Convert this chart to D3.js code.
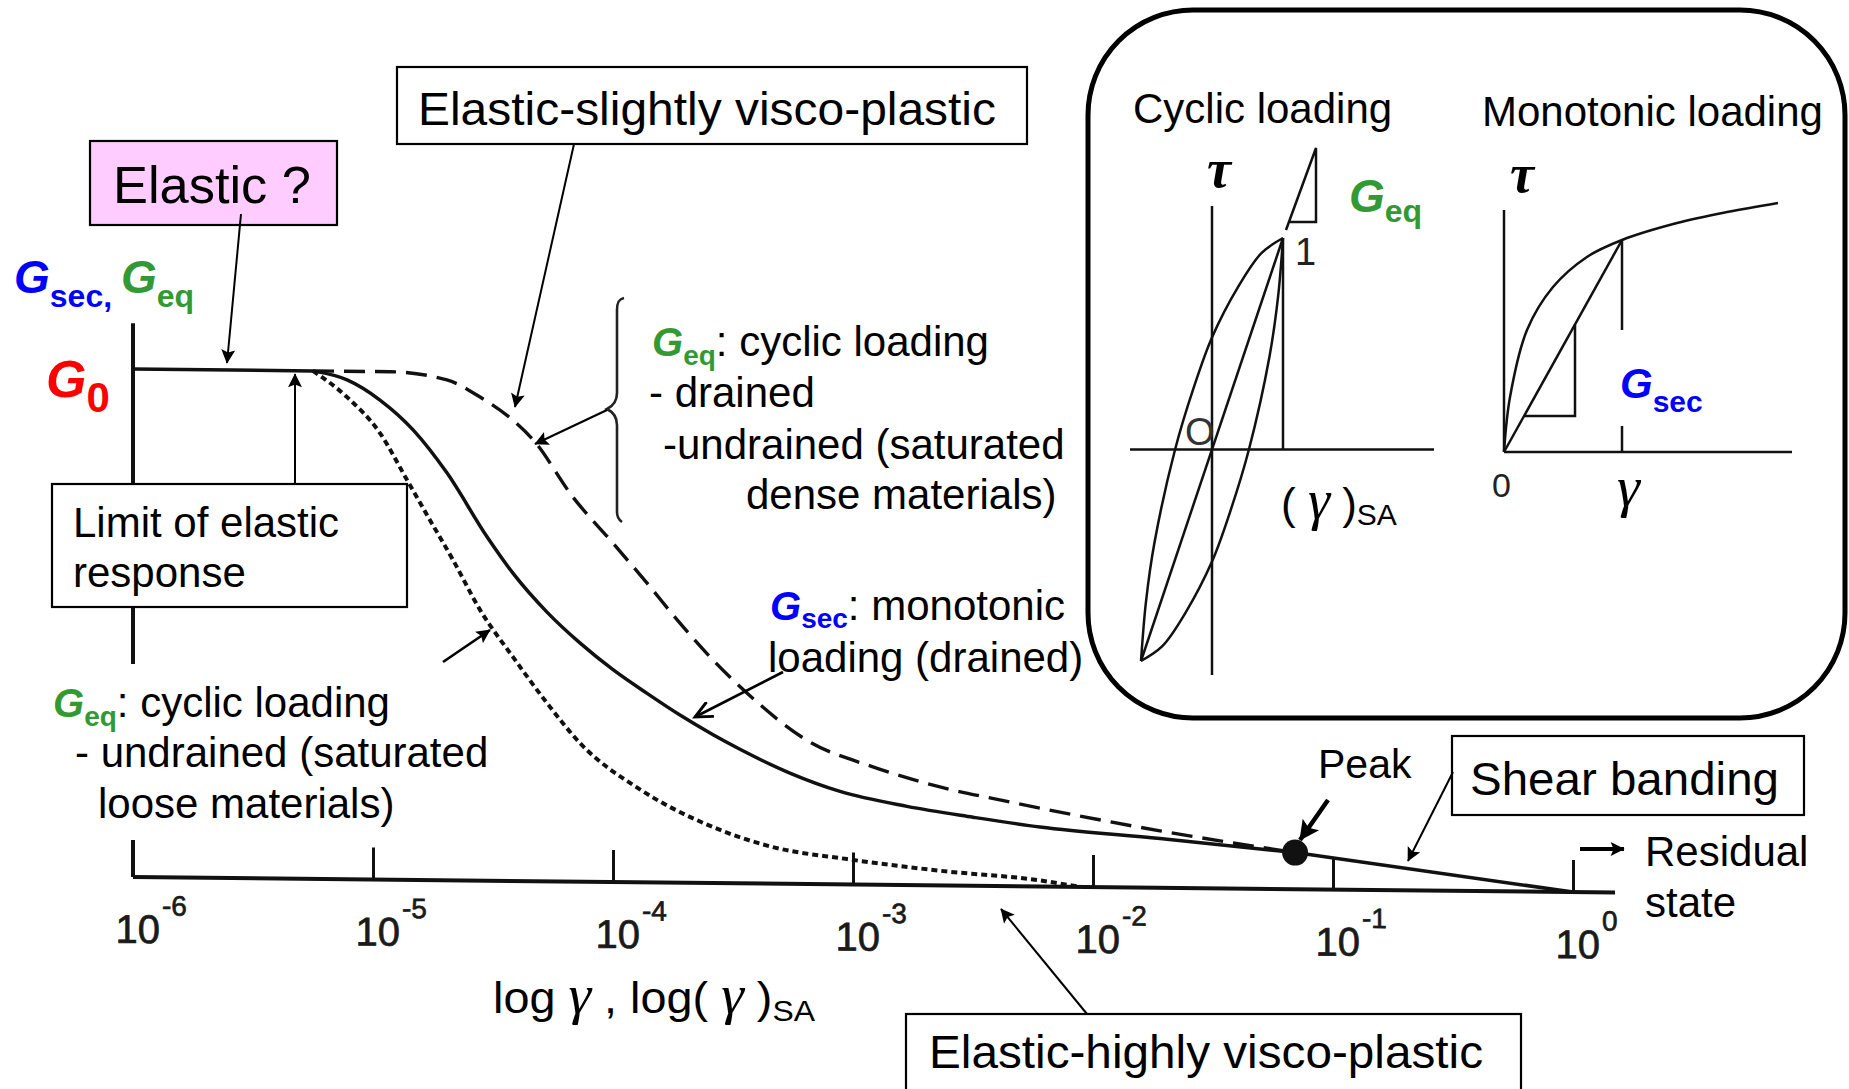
<!DOCTYPE html>
<html>
<head>
<meta charset="utf-8">
<script src="https://cdn.jsdelivr.net/npm/d3@7"></script>
<style>
  html, body { margin: 0; padding: 0; background: #fff; }
  svg { display: block; }
  text { font-family: "Liberation Sans", Arial, sans-serif; fill: #000; }
  .serif { font-family: "Liberation Serif", "Times New Roman", serif; font-style: italic; }
</style>
</head>
<body>
<svg id="chart" width="1849" height="1089"></svg>
<script>
// ---- strain axis: decades of shear strain ----
const tickExponents = [-6, -5, -4, -3, -2, -1, 0];

// ---- G0 plateau (elastic range) ----
const plateauLogGamma = [-6, -5.25];
const plateauRatio = [1, 1];

// ---- G_sec : monotonic loading (drained), solid line ----
const secLogGamma = [-5.25, -5.108, -4.971, -4.833, -4.692, -4.525, -4.417, -4.275, -4.138, -4.0, -3.858, -3.721, -3.583, -3.471, -3.263, -3.054, -2.775, -2.5, -2.221, -1.721, -1.158];
const secRatio    = [1.0, 0.983, 0.944, 0.886, 0.802, 0.677, 0.606, 0.530, 0.470, 0.418, 0.372, 0.330, 0.292, 0.264, 0.218, 0.183, 0.155, 0.135, 0.117, 0.097, 0.072];

// ---- G_eq : cyclic loading, drained / dense undrained, dashed line ----
const eqDrainedLogGamma = [-5.25, -4.929, -4.692, -4.554, -4.417, -4.333, -4.167, -4.0, -3.858, -3.721, -3.583, -3.442, -3.192, -2.917, -2.638, -2.358, -2.083, -1.721, -1.158];
const eqDrainedRatio    = [1.0, 1.0, 0.985, 0.952, 0.907, 0.869, 0.757, 0.667, 0.589, 0.511, 0.439, 0.375, 0.283, 0.232, 0.194, 0.167, 0.142, 0.112, 0.072];

// ---- G_eq : cyclic loading, undrained loose, dotted line ----
const eqUndrainedLogGamma = [-5.25, -5.108, -4.971, -4.858, -4.763, -4.667, -4.554, -4.417, -4.275, -4.138, -3.888, -3.608, -3.333, -3.025, -2.638, -2.221, -2.054];
const eqUndrainedRatio    = [1.0, 0.949, 0.879, 0.787, 0.709, 0.631, 0.533, 0.441, 0.351, 0.273, 0.183, 0.115, 0.072, 0.050, 0.029, 0.012, 0.0];

// ---- peak and shear banding towards the residual state ----
const peakLogGamma = -1.158;
const peakRatio = 0.072;
const residualLogGamma = [-1.158, 0];
const residualRatio = [0.072, 0];

// ---- inset: cyclic hysteresis loop, upper branch (normalised by single amplitude) ----
const loopUpperGamma = [-1, -0.93, -0.81, -0.52, -0.26, 0, 0.37, 0.7, 1];
const loopUpperTau   = [-1, -0.72, -0.44, 0, 0.29, 0.53, 0.77, 0.93, 1];

// ---- inset: monotonic stress-strain curve (normalised at the secant point) ----
const monoGamma = [0, 0.051, 0.195, 0.415, 0.703, 1, 1.466, 1.890, 2.322];
const monoTau   = [0, 0.259, 0.575, 0.778, 0.920, 1, 1.080, 1.132, 1.175];

// ---- colours ----
const BLUE = "#0000ff", GREEN = "#339933", RED = "#ff0000", PINK = "#ffccff", INK = "#111";

const svg = d3.select("#chart");
svg.append("rect").attr("width", 1849).attr("height", 1089).attr("fill", "#fff");

// arrow heads
const defs = svg.append("defs");
function marker(id, w, h, open) {
  const m = defs.append("marker").attr("id", id)
    .attr("viewBox", "0 0 10 10").attr("refX", 9.5).attr("refY", 5)
    .attr("markerUnits", "userSpaceOnUse")
    .attr("markerWidth", w).attr("markerHeight", h).attr("orient", "auto");
  if (open) {
    m.append("path").attr("d", "M0,0.5 L9.5,5 L0,9.5").attr("fill", "none")
      .attr("stroke", "#000").attr("stroke-width", 1.6);
  } else {
    m.append("path").attr("d", "M0,0 L10,5 L0,10 L2,5 Z").attr("fill", "#000");
  }
}
marker("head", 22, 14, false);
marker("headBig", 26, 20, false);
marker("chev", 22, 18, true);

function arrow(x1, y1, x2, y2, w, id) {
  svg.append("line").attr("x1", x1).attr("y1", y1).attr("x2", x2).attr("y2", y2)
    .attr("stroke", "#000").attr("stroke-width", w || 2)
    .attr("marker-end", "url(#" + (id || "head") + ")");
}
function line(g, x1, y1, x2, y2, w) {
  return g.append("line").attr("x1", x1).attr("y1", y1).attr("x2", x2).attr("y2", y2)
    .attr("stroke", INK).attr("stroke-width", w || 2.5);
}
function label(x, y, str, size, opts) {
  const t = svg.append("text").attr("x", x).attr("y", y).attr("font-size", size).text(str);
  if (opts && opts.len) t.attr("textLength", opts.len).attr("lengthAdjust", "spacingAndGlyphs");
  if (opts && opts.fill) t.style("fill", opts.fill);
  if (opts && opts.anchor) t.attr("text-anchor", opts.anchor);
  return t;
}
// "G" with a subscript, followed by optional plain text
function gLabel(x, y, sub, color, gSize, subSize, subDy, rest, restSize) {
  const t = svg.append("text").attr("x", x).attr("y", y);
  t.append("tspan").text("G").attr("font-size", gSize).attr("font-weight", "bold")
    .attr("font-style", "italic").style("fill", color);
  t.append("tspan").text(sub).attr("font-size", subSize).attr("font-weight", "bold")
    .attr("dy", subDy).style("fill", color);
  if (rest) t.append("tspan").text(rest).attr("font-size", restSize).attr("dy", -subDy);
  return t;
}

// ================= main chart =================
const plotW = 1440, plotH = 508;
const x = d3.scaleLog().domain([1e-6, 1]).range([0, plotW]);
const y = d3.scaleLinear().domain([0, 1]).range([0, -plotH]);
const plotTransform = "translate(133,877) skewY(0.6)";

const axes = svg.append("g").attr("transform", plotTransform);
// ordinate
axes.append("line").attr("x1", 0).attr("x2", 0).attr("y1", 0).attr("y2", y(1.09))
  .attr("stroke", INK).attr("stroke-width", 4);
// abscissa with decade ticks
const xAxis = d3.axisBottom(x)
  .tickValues(tickExponents.map(e => Math.pow(10, e)))
  .tickSize(-32).tickSizeOuter(0).tickFormat(() => "");
const gx = axes.append("g").call(xAxis);
gx.select(".domain").remove();
gx.selectAll(".tick line").attr("stroke", INK).attr("stroke-width", 3);
gx.selectAll(".tick").each(function (d, i) {
  const t = d3.select(this).append("text").attr("x", -18).attr("y", 66)
    .attr("font-size", 40).attr("text-anchor", "start")
    .style("fill", "#1a1a1a").style("stroke", "#1a1a1a").style("stroke-width", 0.7);
  t.append("tspan").text("10");
  t.append("tspan").text(String(tickExponents[i]))
    .attr("font-size", 28).attr("dy", -28).attr("dx", 2);
});
axes.append("line").attr("x1", 0).attr("x2", x(1) + 42).attr("y1", 0).attr("y2", 0)
  .attr("stroke", INK).attr("stroke-width", 4);

// white panels behind labels that sit over the ordinate
svg.append("rect").attr("x", 38).attr("y", 664).attr("width", 455).attr("height", 176).attr("fill", "#fff");
svg.append("rect").attr("x", 52).attr("y", 484).attr("width", 355).attr("height", 123)
  .attr("fill", "#fff").attr("stroke", "#000").attr("stroke-width", 2.2);

// curves
const curves = svg.append("g").attr("transform", plotTransform);
const toPts = (lg, r) => lg.map((v, i) => [x(Math.pow(10, v)), y(r[i])]);
const smooth = d3.line().curve(d3.curveMonotoneX);
const straight = d3.line();
const round = d3.line().curve(d3.curveCatmullRom.alpha(0.5));

curves.append("path").attr("d", straight(toPts(plateauLogGamma, plateauRatio)))
  .attr("fill", "none").attr("stroke", INK).attr("stroke-width", 3.5);
curves.append("path").attr("d", smooth(toPts(secLogGamma, secRatio)))
  .attr("fill", "none").attr("stroke", INK).attr("stroke-width", 3.5);
curves.append("path").attr("d", smooth(toPts(eqDrainedLogGamma, eqDrainedRatio)))
  .attr("fill", "none").attr("stroke", INK).attr("stroke-width", 3.4)
  .attr("stroke-dasharray", "21,10");
curves.append("path").attr("d", smooth(toPts(eqUndrainedLogGamma, eqUndrainedRatio)))
  .attr("fill", "none").attr("stroke", INK).attr("stroke-width", 4)
  .attr("stroke-dasharray", "6,4");
curves.append("path").attr("d", straight(toPts(residualLogGamma, residualRatio)))
  .attr("fill", "none").attr("stroke", INK).attr("stroke-width", 3.5);
curves.append("circle").attr("cx", x(Math.pow(10, peakLogGamma))).attr("cy", y(peakRatio))
  .attr("r", 13).attr("fill", INK);

// ================= annotations =================
// Elastic ?
svg.append("rect").attr("x", 90).attr("y", 141).attr("width", 247).attr("height", 84)
  .attr("fill", PINK).attr("stroke", "#000").attr("stroke-width", 2.2);
label(113, 203, "Elastic ?", 52, { len: 198 });
arrow(241, 214, 227, 363, 2);

// ordinate labels
const lab1 = svg.append("text").attr("x", 14).attr("y", 293);
lab1.append("tspan").text("G").attr("font-size", 46).attr("font-weight", "bold").attr("font-style", "italic").style("fill", BLUE);
lab1.append("tspan").text("sec,").attr("font-size", 32).attr("font-weight", "bold").attr("dy", 14).style("fill", BLUE);
lab1.append("tspan").text(" ").attr("font-size", 32);
lab1.append("tspan").text("G").attr("font-size", 46).attr("font-weight", "bold").attr("font-style", "italic").attr("dy", -14).style("fill", GREEN);
lab1.append("tspan").text("eq").attr("font-size", 32).attr("font-weight", "bold").attr("dy", 14).style("fill", GREEN);

const g0 = svg.append("text").attr("x", 46).attr("y", 397);
g0.append("tspan").text("G").attr("font-size", 52).attr("font-weight", "bold").attr("font-style", "italic").style("fill", RED);
g0.append("tspan").text("0").attr("font-size", 42).attr("font-weight", "bold").attr("dy", 15).style("fill", RED);

// Elastic-slightly visco-plastic
svg.append("rect").attr("x", 397).attr("y", 67).attr("width", 630).attr("height", 77)
  .attr("fill", "#fff").attr("stroke", "#000").attr("stroke-width", 2.2);
label(418, 125, "Elastic-slightly visco-plastic", 47, { len: 578 });
arrow(574, 144, 515, 407, 2);

// brace grouping the dashed-curve cases
svg.append("path")
  .attr("d", "M624,298 C619,299 617,302 617,310 L617,393 C617,402 613,406 607,409 C613,412 617,416 617,425 L617,512 C617,518 619,520 622,522")
  .attr("fill", "none").attr("stroke", "#222").attr("stroke-width", 2.6);
arrow(607, 410, 535, 444, 2.2);

gLabel(652, 356, "eq", GREEN, 40, 28, 9, ": cyclic loading", 42);
label(649, 407, "- drained", 42);
label(663, 459, "-undrained (saturated", 42);
label(746, 509, "dense materials)", 42);

// Limit of elastic response
label(73, 537, "Limit of elastic", 42);
label(73, 587, "response", 42);
arrow(295, 484, 295, 374, 2);

// lower G_eq label
gLabel(53, 717, "eq", GREEN, 40, 28, 9, ": cyclic loading", 42);
label(75, 767, "- undrained (saturated", 42);
label(98, 818, "loose materials)", 42);
arrow(443, 662, 490, 630, 2.6);

// G_sec label
gLabel(770, 620, "sec", BLUE, 40, 28, 8, ": monotonic", 42);
label(768, 672, "loading (drained)", 42);
arrow(783, 672, 695, 717, 2.8, "chev");

// Peak
label(1318, 778, "Peak", 41);
arrow(1328, 800, 1300, 840, 4.5, "headBig");

// Shear banding
svg.append("rect").attr("x", 1452).attr("y", 736).attr("width", 352).attr("height", 79)
  .attr("fill", "#fff").attr("stroke", "#000").attr("stroke-width", 2.2);
label(1470, 795, "Shear banding", 46, { len: 309 });
arrow(1453, 772, 1408, 861, 2);

// Residual state
arrow(1580, 849, 1624, 849, 4, "head");
label(1645, 866, "Residual", 42);
label(1645, 917, "state", 42);

// Elastic-highly visco-plastic
svg.append("rect").attr("x", 906).attr("y", 1014).attr("width", 615).attr("height", 100)
  .attr("fill", "#fff").attr("stroke", "#000").attr("stroke-width", 2.2);
label(929, 1068, "Elastic-highly visco-plastic", 47, { len: 554 });
arrow(1087, 1014, 1001, 909, 2);

// abscissa title
const xt = svg.append("text").attr("x", 493).attr("y", 1013).attr("font-size", 44)
  .attr("textLength", 322).attr("lengthAdjust", "spacingAndGlyphs");
xt.append("tspan").text("log ");
xt.append("tspan").text("\u03b3").attr("class", "serif").attr("font-size", 54);
xt.append("tspan").text(" , log( ");
xt.append("tspan").text("\u03b3").attr("class", "serif").attr("font-size", 54);
xt.append("tspan").text(" )");
xt.append("tspan").text("SA").attr("font-size", 30).attr("dy", 8);

// ================= inset =================
const inset = svg.append("g");
inset.append("rect").attr("x", 1088).attr("y", 10).attr("width", 757).attr("height", 708)
  .attr("rx", 105).attr("ry", 105).attr("fill", "#fff")
  .attr("stroke", "#000").attr("stroke-width", 5);

label(1133, 123, "Cyclic loading", 42);
label(1482, 126, "Monotonic loading", 42);

// cyclic panel
const cx = d3.scaleLinear().domain([-1, 1]).range([1141, 1283]);
const cy = d3.scaleLinear().domain([-1, 1]).range([661, 238]);
svg.append("text").attr("x", 1207).attr("y", 187).attr("class", "serif")
  .attr("font-size", 54).attr("font-weight", "bold").text("\u03c4");
line(inset, cx(0), 206, cx(0), 675);
line(inset, 1130, cy(0), 1434, cy(0));
label(1185, 445, "O", 38, { fill: "#333" });
const upper = loopUpperGamma.map((g, i) => [cx(g), cy(loopUpperTau[i])]);
const lower = loopUpperGamma.map((g, i) => [cx(-g), cy(-loopUpperTau[i])]).reverse();
inset.append("path").attr("d", round(upper)).attr("fill", "none").attr("stroke", INK).attr("stroke-width", 2.5);
inset.append("path").attr("d", round(lower)).attr("fill", "none").attr("stroke", INK).attr("stroke-width", 2.5);
line(inset, cx(-1), cy(-1), cx(1), cy(1));
line(inset, cx(1), cy(1), cx(1), cy(0));
inset.append("path").attr("d", "M1286,230 L1316,148 L1316,222 L1290,222")
  .attr("fill", "none").attr("stroke", INK).attr("stroke-width", 2.5);
label(1295, 265, "1", 38, { fill: "#222" });
gLabel(1349, 212, "eq", GREEN, 46, 32, 10);
const sa = svg.append("text").attr("x", 1281).attr("y", 519).attr("font-size", 44);
sa.append("tspan").text("( ");
sa.append("tspan").text("\u03b3").attr("class", "serif").attr("font-size", 56);
sa.append("tspan").text(" )");
sa.append("tspan").text("SA").attr("font-size", 30).attr("dy", 6);

// monotonic panel
const mx = d3.scaleLinear().domain([0, 1]).range([1504, 1622]);
const my = d3.scaleLinear().domain([0, 1]).range([452, 240]);
svg.append("text").attr("x", 1510).attr("y", 192).attr("class", "serif")
  .attr("font-size", 54).attr("font-weight", "bold").text("\u03c4");
line(inset, mx(0), 210, mx(0), my(0));
line(inset, mx(0), my(0), 1792, my(0));
inset.append("path").attr("d", round(monoGamma.map((g, i) => [mx(g), my(monoTau[i])])))
  .attr("fill", "none").attr("stroke", INK).attr("stroke-width", 2.5);
line(inset, mx(0), my(0), mx(1), my(1));
line(inset, mx(1), my(1), mx(1), my(0));
// slope triangle under the secant
const legX = 1575, legY = 416;
const secY = my((legX - mx(0)) / (mx(1) - mx(0)));
const secX = mx(my.invert(legY));
inset.append("path").attr("d", `M${legX},${secY} L${legX},${legY} L${secX},${legY}`)
  .attr("fill", "none").attr("stroke", INK).attr("stroke-width", 2.5);
inset.append("rect").attr("x", 1586).attr("y", 330).attr("width", 122).attr("height", 96).attr("fill", "#fff");
gLabel(1620, 398, "sec", BLUE, 42, 30, 14);
label(1492, 497, "0", 34, { fill: "#222" });
svg.append("text").attr("x", 1617).attr("y", 506).attr("class", "serif")
  .attr("font-size", 58).text("\u03b3");
</script>
</body>
</html>
